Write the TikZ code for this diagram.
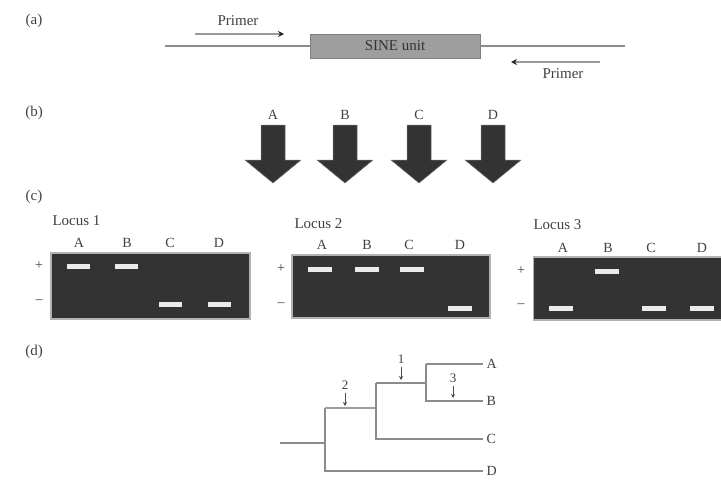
\documentclass[tikz,border=0pt]{standalone}
\usepackage{fontspec}
\setmainfont{Liberation Serif}
\usetikzlibrary{arrows.meta}
\begin{document}
\begin{tikzpicture}[x=1pt,y=-1pt,
  lbl/.style={font=\fontsize{15}{17}\selectfont, text=black!75},
  sm/.style={font=\fontsize{14}{16}\selectfont, text=black!75},
  tiny/.style={font=\fontsize{13}{15}\selectfont, text=black!75},
  dna/.style={draw=black!45, line width=1.6pt},
  primer/.style={draw=black!40, line width=1.4pt},
  ptip/.style={-{Stealth[length=6pt,width=6pt,color=black!85]}},
  gel/.style={fill=black!80, draw=black!30, line width=1.2pt, inner sep=0pt},
  band/.style={fill=white!92!black, draw=none},
  tree/.style={draw=black!45, line width=2pt},
  bigarrow/.style={fill=black!80, draw=black!55, line width=0.5pt},
  tick/.style={-{Stealth[length=4pt,width=4pt]}, draw=black!70, line width=0.8pt}
]
\useasboundingbox (0,0) rectangle (721,480);

% ---------- (a) SINE insertion with primers ----------
\node[lbl] (la) at (34,21) {(a)};
\coordinate (dl) at (165,46);
\node[fill=black!38, draw=black!50, minimum width=170pt, minimum height=24pt, inner sep=0pt,
      font=\fontsize{15}{17}\selectfont, text=black!80] (sine) at (395,46) {SINE unit};
\coordinate (dr) at (625,46);
\draw[dna] (dl) -- (sine.west);
\draw[dna] (sine.east) -- (dr);
\coordinate (p1s) at (195,34);
\coordinate (p1e) at (284,34);
\draw[primer, ptip] (p1s) -- (p1e);
\node[lbl] (pr1) at (238,21) {Primer};
\coordinate (p2s) at (600,62);
\coordinate (p2e) at (511,62);
\draw[primer, ptip] (p2s) -- (p2e);
\node[lbl] (pr2) at (563,74) {Primer};

% ---------- (b) four taxa ----------
\node[lbl] (lb) at (34,113) {(b)};
\foreach \n/\x in {A/273, B/345, C/419, D/493}{
  \node[sm] (t\n) at (\x,115) {\n};
  \draw[bigarrow] (\x-12,125) -- (\x+12,125) -- (\x+12,160) -- (\x+28,160)
        -- (\x,183) -- (\x-28,160) -- (\x-12,160) -- cycle;
}

% ---------- (c) gels ----------
\node[lbl] (lc) at (34,197) {(c)};

% Locus 1
\node[gel, minimum width=199pt, minimum height=66pt] (g1) at (150.5,286) {};
\node[lbl, anchor=west] (l1) at (49,221) {Locus 1};
\foreach \n/\x in {A/79, B/127, C/170, D/219}
  \node[sm] (g1\n) at (\x,243) {\n};
\node[sm] (g1p) at (39,266) {+};
\node[sm] (g1m) at (39,302) {\textendash};
\foreach \x/\y in {78/266, 126/266, 170/304, 219/304}
  \fill[band] (\x-11.5,\y-2.5) rectangle (\x+11.5,\y+2.5);

% Locus 2
\node[gel, minimum width=198pt, minimum height=63pt] (g2) at (391,286.5) {};
\node[lbl, anchor=west] (l2) at (291,224) {Locus 2};
\foreach \n/\x in {A/322, B/367, C/409, D/460}
  \node[sm] (g2\n) at (\x,245) {\n};
\node[sm] (g2p) at (281,269) {+};
\node[sm] (g2m) at (281,305) {\textendash};
\foreach \x/\y in {320/269, 367/269, 412/269, 460/308}
  \fill[band] (\x-12,\y-2.5) rectangle (\x+12,\y+2.5);

% Locus 3
\node[gel, minimum width=200pt, minimum height=63pt, anchor=west] (g3) at (533,288.5) {};
\node[lbl, anchor=west] (l3) at (530,225) {Locus 3};
\foreach \n/\x in {A/563, B/608, C/651, D/702}
  \node[sm] (g3\n) at (\x,248) {\n};
\node[sm] (g3p) at (521,271) {+};
\node[sm] (g3m) at (521,306) {\textendash};
\foreach \x/\y in {561/308, 607/271, 654/308, 702/308}
  \fill[band] (\x-12,\y-2.5) rectangle (\x+12,\y+2.5);

% ---------- (d) tree ----------
\node[lbl] (ld) at (34,352) {(d)};
\coordinate (root) at (280,443);
\coordinate (n2) at (325,443);
\coordinate (n1) at (376,408);
\coordinate (n0) at (426,383);
\node[sm, anchor=west] (tA) at (483,364) {A};
\node[sm, anchor=west] (tB) at (483,401) {B};
\node[sm, anchor=west] (tC) at (483,439) {C};
\node[sm, anchor=west] (tD) at (483,471) {D};
\draw[tree] (root) -- (n2);
\draw[tree] (n2 |- n1) -- (n2 |- tD) -- (tD.west);
\draw[tree, line width=2.6pt, draw=black!38] (n2 |- n1) -- (n1);
\draw[tree] (n1 |- n0) -- (n1 |- tC) -- (tC.west);
\draw[tree] (n1 |- n0) -- (n0);
\draw[tree] (n0 |- tA) -- (tA.west);
\draw[tree] (n0 |- tA) -- (n0 |- tB) -- (tB.west);
% insertion events
\node[tiny] (e1) at (401,359) {1};
\node[tiny] (e2) at (345,385) {2};
\node[tiny] (e3) at (453,378) {3};
\coordinate (e1t) at (401,380);
\coordinate (e2t) at (345,406);
\coordinate (e3t) at (453,398);
\draw[tick] (e1) -- (e1t);
\draw[tick] (e2) -- (e2t);
\draw[tick] (e3) -- (e3t);
\end{tikzpicture}
\end{document}
